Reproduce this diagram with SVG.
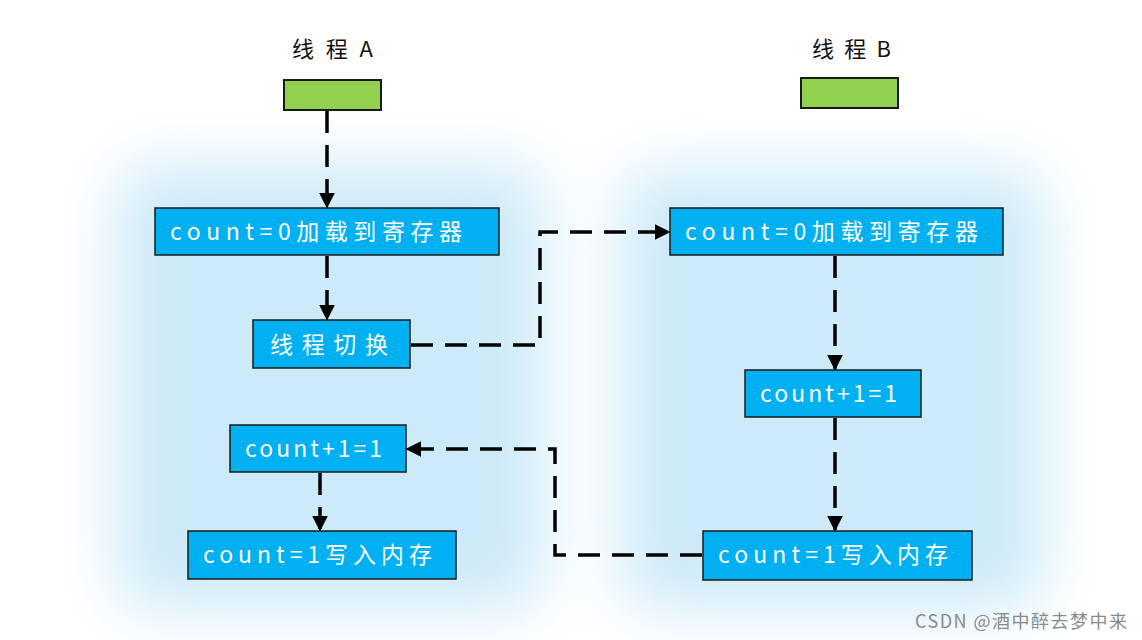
<svg xmlns="http://www.w3.org/2000/svg" width="1142" height="640" viewBox="0 0 1142 640">
<defs>
<filter id="glow" x="-30%" y="-30%" width="160%" height="160%"><feGaussianBlur stdDeviation="30"/></filter>
<marker id="arr" viewBox="0 0 10 10" refX="9" refY="5" markerWidth="4.6" markerHeight="4.6" orient="auto" markerUnits="strokeWidth"><path d="M0,0 L10,5 L0,10 Z" fill="#000"/></marker>
<style>
.lbl{font-family:"Noto Sans CJK SC","Noto Sans",sans-serif;font-size:23px;fill:#fff}
.ttl{font-family:"Noto Sans CJK SC","Noto Sans",sans-serif;font-size:22px;fill:#111}
.box{fill:#00b0f0;stroke:#1a1a1a;stroke-width:1.5}
.grn{fill:#92d050;stroke:#1a1a1a;stroke-width:2}
.con{fill:none;stroke:#000;stroke-width:3.5;stroke-dasharray:22 12;marker-end:url(#arr)}
</style>
</defs>
<rect width="1142" height="640" fill="#fff"/>
<g id="bg" filter="url(#glow)" fill="#cdeaf8">
<rect x="115" y="165" width="430" height="445" rx="40"/>
<rect x="620" y="170" width="425" height="440" rx="40"/>
</g>
<g id="titleA"><text class="ttl" x="292" y="57" textLength="81" lengthAdjust="spacing">线程A</text></g>
<g id="titleB"><text class="ttl" x="812" y="57" textLength="79" lengthAdjust="spacing">线程B</text></g>
<g id="threadA"><rect class="grn" x="284" y="80" width="97" height="30"/></g>
<g id="threadB"><rect class="grn" x="801" y="78" width="97" height="30"/></g>
<g id="a1"><rect class="box" x="155" y="208" width="344" height="47"/><text class="lbl" x="170" y="240" textLength="292" lengthAdjust="spacing">count=0加载到寄存器</text></g>
<g id="a2"><rect class="box" x="253" y="320" width="157" height="48"/><text class="lbl" x="270" y="353" textLength="118" lengthAdjust="spacing">线程切换</text></g>
<g id="a3"><rect class="box" x="230" y="425" width="176" height="47"/><text class="lbl" x="245" y="457" textLength="137" lengthAdjust="spacing">count+1=1</text></g>
<g id="a4"><rect class="box" x="188" y="531" width="268" height="48"/><text class="lbl" x="203" y="563" textLength="229" lengthAdjust="spacing">count=1写入内存</text></g>
<g id="b1"><rect class="box" x="670" y="208" width="333" height="47"/><text class="lbl" x="685" y="240" textLength="293" lengthAdjust="spacing">count=0加载到寄存器</text></g>
<g id="b2"><rect class="box" x="745" y="370" width="176" height="47"/><text class="lbl" x="760" y="402" textLength="137" lengthAdjust="spacing">count+1=1</text></g>
<g id="b3"><rect class="box" x="703" y="531" width="269" height="49"/><text class="lbl" x="718" y="563" textLength="230" lengthAdjust="spacing">count=1写入内存</text></g>
<g id="connectors">
<path class="con" d="M327,111 V207"/>
<path class="con" d="M327,256 V319"/>
<path class="con" d="M411,345 H540 V232 H669"/>
<path class="con" d="M835,256 V369"/>
<path class="con" d="M835,418 V530"/>
<path class="con" d="M702,555 H555 V449 H407"/>
<path class="con" d="M320,473 V530"/>
</g>
<text x="915" y="628" font-family="'Noto Sans CJK SC','Noto Sans',sans-serif" font-size="18" fill="#8a8a8a" textLength="212" lengthAdjust="spacing">CSDN @酒中醉去梦中来</text>
</svg>
